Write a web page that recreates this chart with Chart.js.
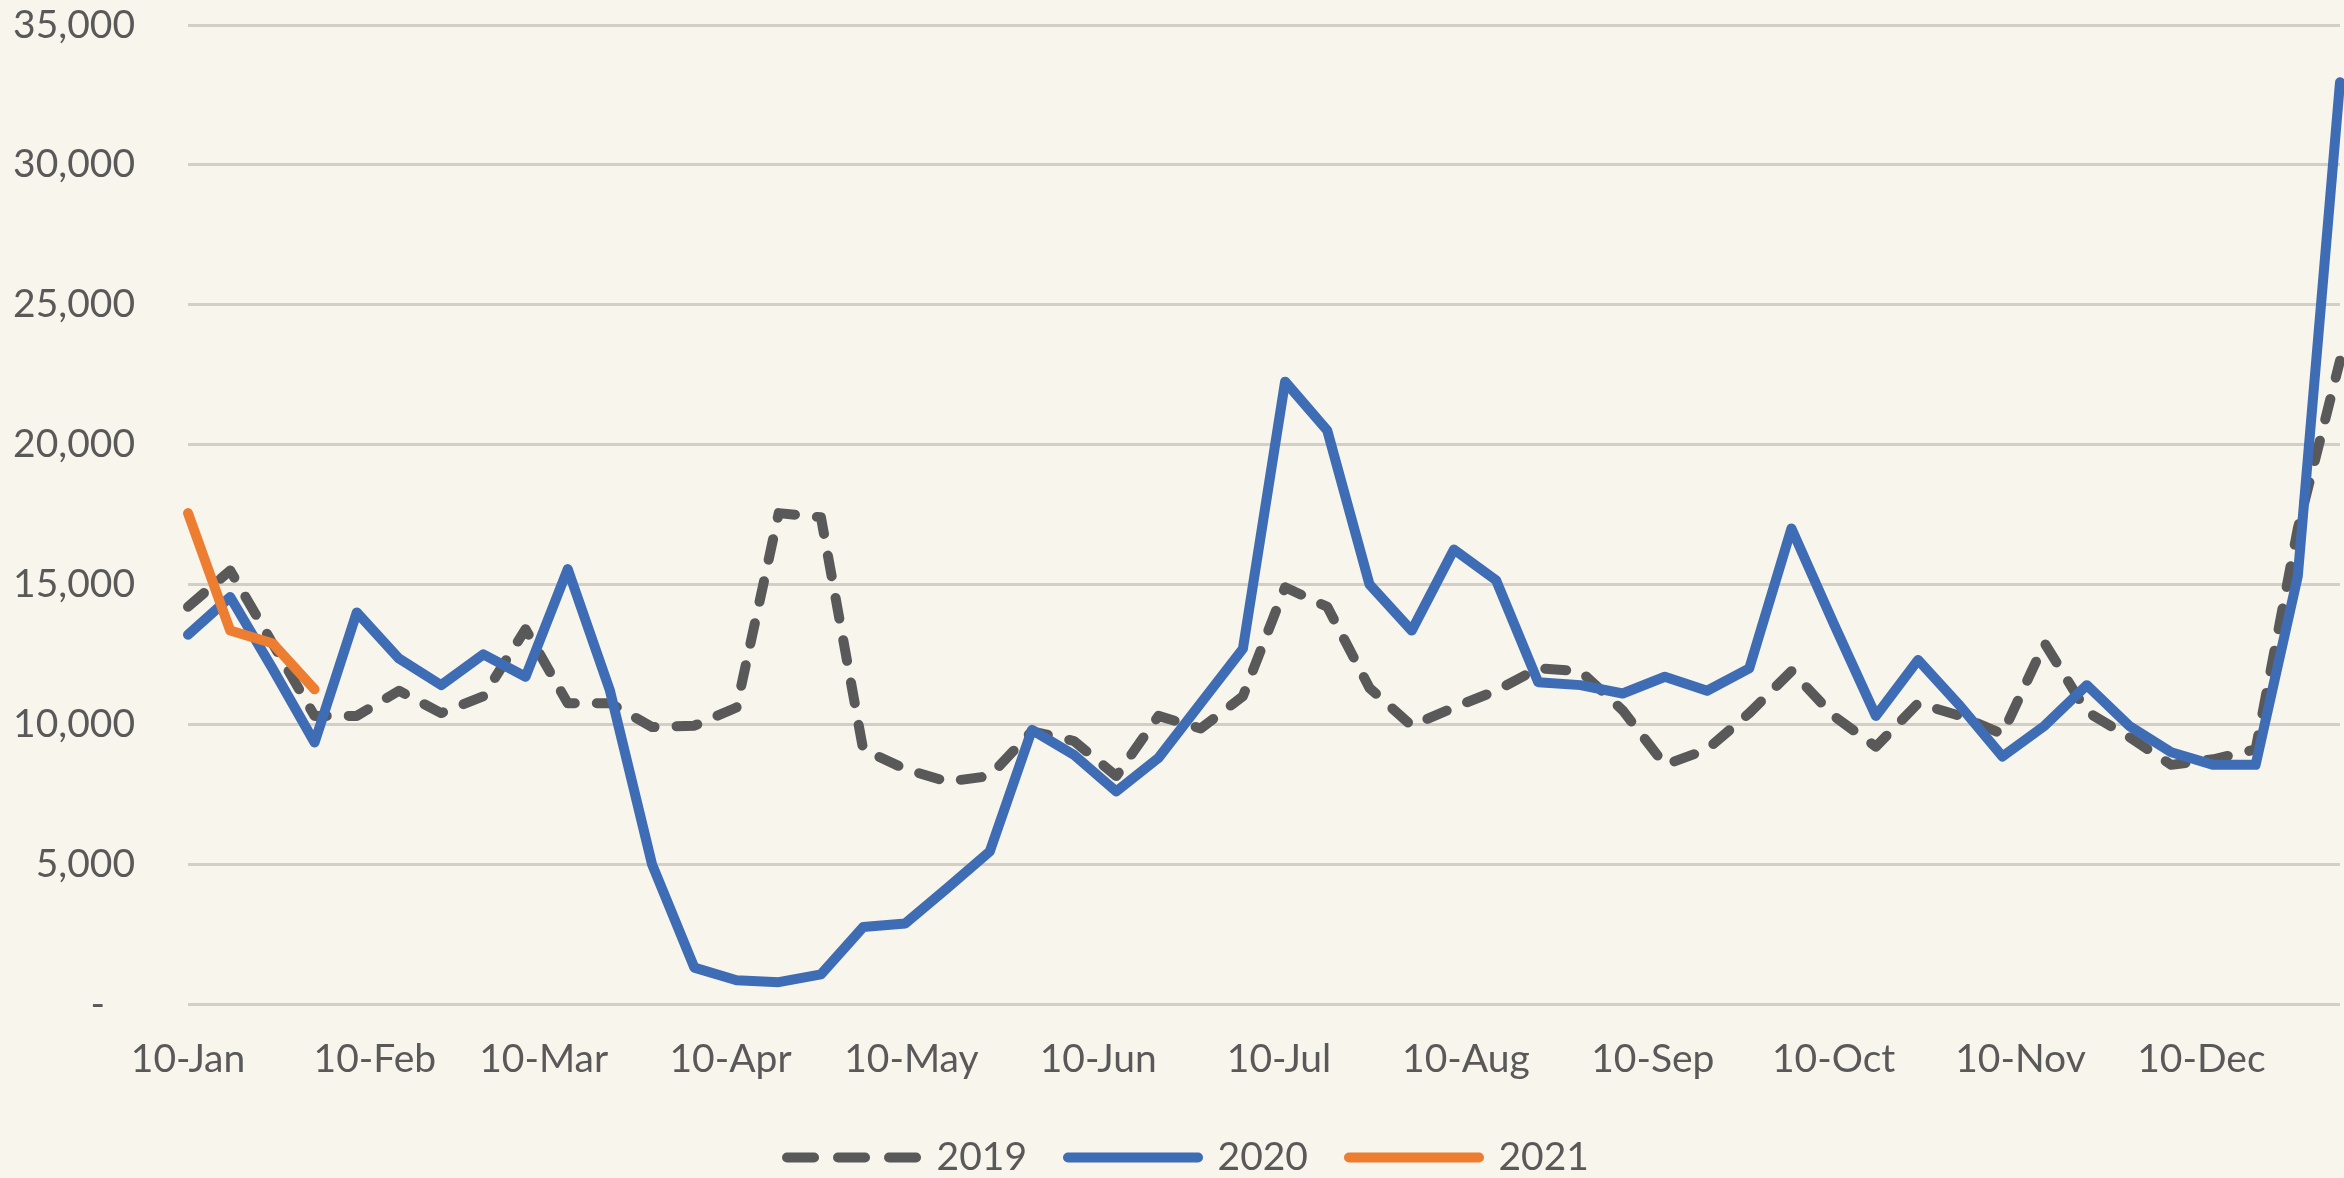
<!DOCTYPE html>
<html>
<head>
<meta charset="utf-8">
<script src="https://cdn.jsdelivr.net/npm/chart.js@4.4.1/dist/chart.umd.min.js"></script>
<style>
  html, body { margin: 0; padding: 0; background: #F8F5EC; }
  canvas { display: block; }
</style>
</head>
<body>
<canvas id="chart" width="2344" height="1178"></canvas>
<script>
// weeks counted in days from 10-Jan (52 weekly points)
var weekDays = [];
for (var w = 0; w < 52; w++) weekDays.push(w * 7);

// month tick marks on the date axis
var tickDays = [0, 31, 59, 90, 120, 151, 181, 212, 243, 273, 304, 334];
var tickLabels = ['10-Jan', '10-Feb', '10-Mar', '10-Apr', '10-May', '10-Jun', '10-Jul', '10-Aug', '10-Sep', '10-Oct', '10-Nov', '10-Dec'];

var values2019 = [14200, 15500, 12900, 10300, 10300, 11200, 10400, 11000, 13400, 10750,
                  10750, 9900, 9950, 10600, 17550, 17400, 9100, 8400, 7950, 8150,
                  9750, 9400, 8150, 10300, 9850, 11000, 14900, 14200, 11300, 9950,
                  10600, 11200, 12000, 11900, 10500, 8550, 9100, 10400, 11900, 10300,
                  9200, 10750, 10300, 9650, 12900, 10450, 9550, 8550, 8750, 9100,
                  17000, 23000];
var values2020 = [13200, 14550, 12000, 9350, 14000, 12350, 11400, 12500, 11700, 15550,
                  11200, 4980, 1300, 850, 780, 1060, 2750, 2880, 4150, 5450,
                  9800, 8900, 7600, 8800, 10750, 12700, 22250, 20500, 15000, 13350,
                  16250, 15150, 11500, 11400, 11100, 11700, 11200, 12000, 17000, 13600,
                  10300, 12300, 10650, 8850, 9950, 11400, 9950, 9000, 8550, 8550,
                  15300, 32950];
var values2021 = [17550, 13350, 12900, 11250];

function toPoints(vals) {
    return vals.map(function (v, i) { return { x: weekDays[i], y: v }; });
}

var textColor = '#595959';
var fontFamily = 'Lato, "Open Sans", sans-serif';

// nudge the legend row a little (Chart.js keeps 10px under it)
var legendShift = {
    id: 'legendShift',
    afterLayout: function (chart) {
        chart.legend.top += 9;
        chart.legend.bottom += 9;
        chart.legend.left += 18;
        chart.legend.right += 18;
    }
};

var ctx = document.getElementById('chart').getContext('2d');
var chart = new Chart(ctx, {
    type: 'line',
    data: {
        datasets: [
            {
                label: '2019',
                data: toPoints(values2019),
                borderColor: '#595959',
                backgroundColor: '#595959',
                borderWidth: 10,
                borderDash: [21, 22],
                borderCapStyle: 'round',
                borderJoinStyle: 'round',
                pointRadius: 0,
                tension: 0,
                order: 3,
                clip: false
            },
            {
                label: '2020',
                data: toPoints(values2020),
                borderColor: '#3E6DB5',
                backgroundColor: '#3E6DB5',
                borderWidth: 10,
                borderCapStyle: 'round',
                borderJoinStyle: 'round',
                pointRadius: 0,
                tension: 0,
                order: 2,
                clip: false
            },
            {
                label: '2021',
                data: toPoints(values2021),
                borderColor: '#ED7D31',
                backgroundColor: '#ED7D31',
                borderWidth: 10,
                borderCapStyle: 'round',
                borderJoinStyle: 'round',
                pointRadius: 0,
                tension: 0,
                order: 1,
                clip: false
            }
        ]
    },
    plugins: [legendShift],
    options: {
        responsive: false,
        animation: false,
        devicePixelRatio: 1,
        layout: { padding: { left: 0, right: 4, top: 0, bottom: 0 } },
        plugins: {
            tooltip: { enabled: false },
            legend: {
                position: 'bottom',
                labels: {
                    usePointStyle: true,
                    pointStyle: 'line',
                    pointStyleWidth: 130,
                    padding: 41,
                    color: textColor,
                    font: { family: fontFamily, size: 39 },
                    sort: function (a, b) { return a.datasetIndex - b.datasetIndex; },
                    generateLabels: function (chart) {
                        var items = Chart.defaults.plugins.legend.labels.generateLabels(chart);
                        items.forEach(function (item) {
                            var ds = chart.data.datasets[item.datasetIndex];
                            // three even dashes in the legend sample
                            item.lineDash = ds.borderDash ? [27, 24] : [];
                            item.lineCap = 'round';
                            item.lineWidth = ds.borderWidth;
                            item.strokeStyle = ds.borderColor;
                        });
                        return items;
                    }
                }
            }
        },
        scales: {
            x: {
                type: 'linear',
                min: 0,
                max: 357,
                grid: { display: false, drawTicks: false },
                border: { display: false },
                afterBuildTicks: function (scale) {
                    scale.ticks = tickDays.map(function (d) { return { value: d }; });
                },
                afterFit: function (scale) { scale.height = 84; },
                ticks: {
                    autoSkip: false,
                    maxRotation: 0,
                    padding: 32,
                    color: textColor,
                    font: { family: fontFamily, size: 39 },
                    callback: function (value) {
                        var k = tickDays.indexOf(value);
                        return k >= 0 ? tickLabels[k] : '';
                    }
                }
            },
            y: {
                min: 0,
                max: 35000,
                grid: { color: '#D3CFC7', lineWidth: 3, drawTicks: false },
                border: { display: false },
                afterFit: function (scale) {
                    scale.width = 188;
                    scale.paddingTop = 25;
                    scale.paddingBottom = 0;
                },
                ticks: {
                    stepSize: 5000,
                    padding: 53,
                    color: textColor,
                    font: { family: fontFamily, size: 39 },
                    callback: function (value) {
                        return value === 0 ? '-   ' : value.toLocaleString('en-US');
                    }
                }
            }
        }
    }
});
</script>
</body>
</html>
